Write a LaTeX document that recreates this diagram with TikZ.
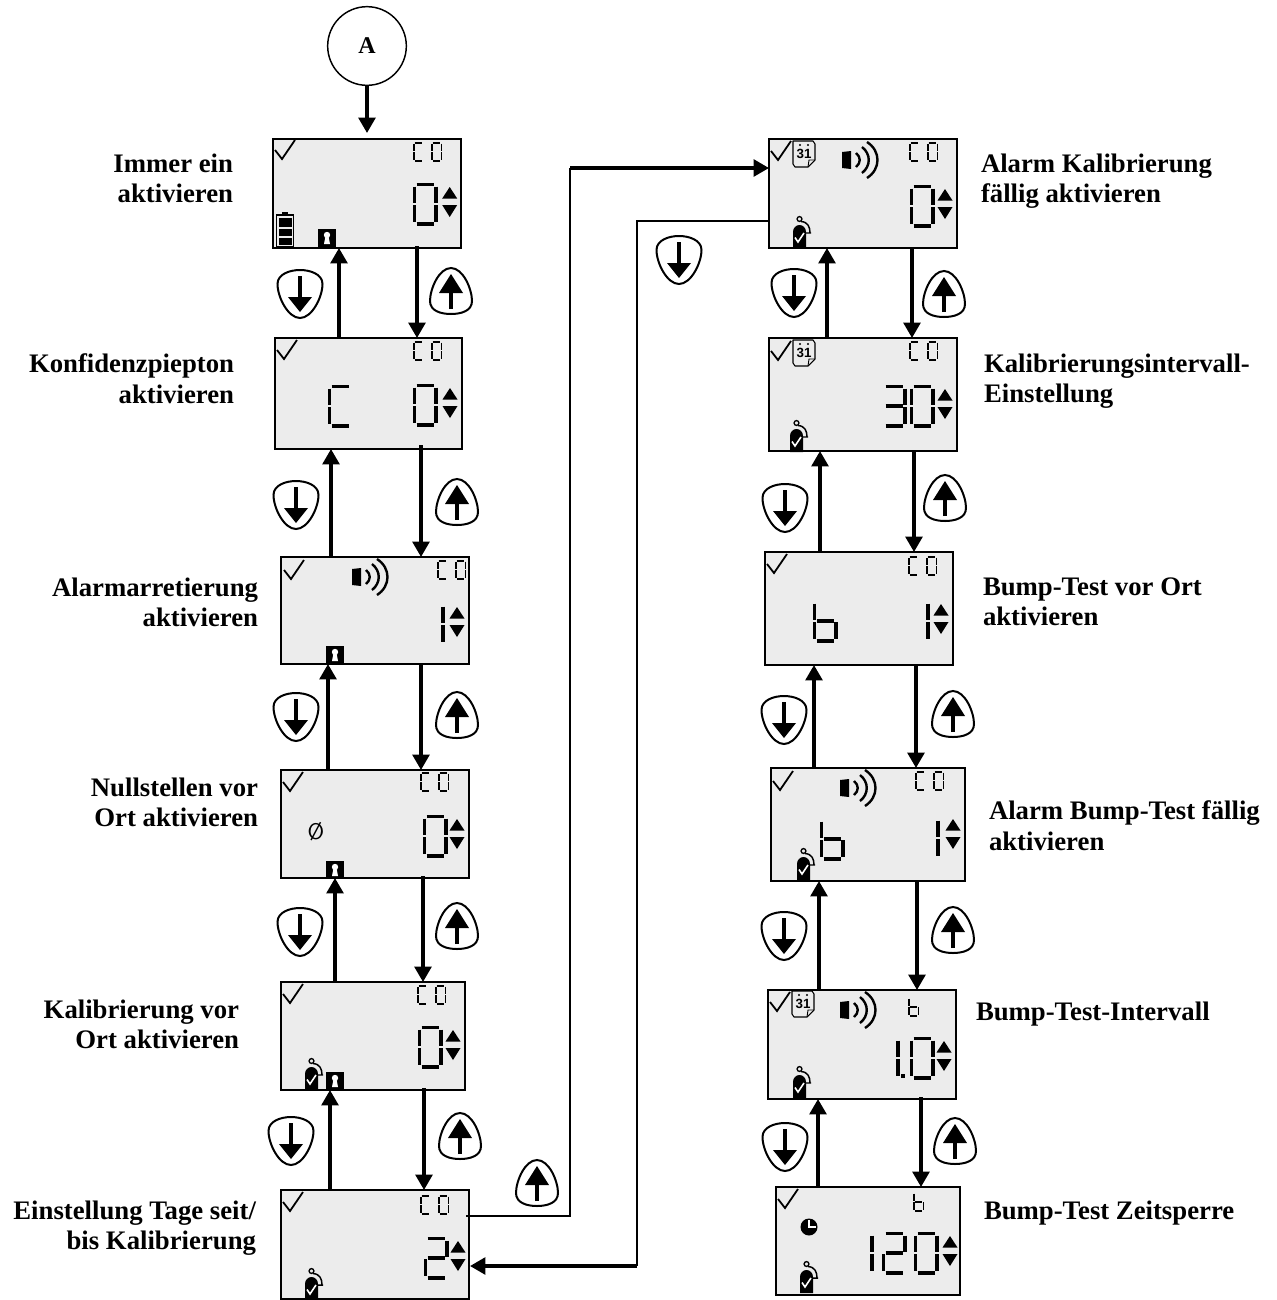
\documentclass[tikz,border=0pt]{standalone}
\usepackage{fontspec}
\setmainfont{Liberation Serif}
\newfontfamily\calfont{Liberation Sans}
\usetikzlibrary{arrows.meta,calc}
% ---- seven segment pieces (24 x 42 px cell)
\newcommand\segA{\draw[seg] (3.5,1.3)--(20.5,1.3);}
\newcommand\segB{\draw[seg] (22.7,3.5)--(22.7,19.8);}
\newcommand\segC{\draw[seg] (22.7,22.2)--(22.7,38.5);}
\newcommand\segD{\draw[seg] (3.5,40.7)--(20.5,40.7);}
\newcommand\segE{\draw[seg] (1.3,22.2)--(1.3,38.5);}
\newcommand\segF{\draw[seg] (1.3,3.5)--(1.3,19.8);}
\newcommand\segG{\draw[seg] (3.5,21)--(20.5,21);}
\newcommand\digO{\segA\segB\segC\segD\segE\segF}
\newcommand\digI{\segB\segC}
\newcommand\digII{\segA\segB\segG\segE\segD}
\newcommand\digIII{\segA\segB\segG\segC\segD}
\newcommand\digC{\segA\segF\segE\segD}
\newcommand\digb{\segF\segE\segG\segC\segD}
\newcommand\bigdg[3]{\begin{scope}[shift={(#1,#2)}]#3\end{scope}}
\newcommand\smalldg[3]{\begin{scope}[shift={(#1,#2)},xscale=.46,yscale=.47,seg/.style={line width=1.4pt,line cap=butt}]#3\end{scope}}
\newcommand\coLbl[2]{\smalldg{#1}{#2}{\digC}\smalldg{#1+18}{#2}{\digO}}
\newcommand\udarrows[2]{%
  \fill ({#1-7.5},{#2+15.5})--({#1+7.5},{#2+15.5})--(#1,{#2+4})--cycle;
  \fill ({#1-7.5},{#2+22})--({#1+7.5},{#2+22})--(#1,{#2+34})--cycle;}
\newcommand\chk[2]{\draw[line width=1.35pt,shift={(#1,#2)}] (0,10)--(7,19)--(20,0);}
\newcommand\lockic[2]{\begin{scope}[shift={(#1,#2)}]
  \fill (0,0) rectangle (18,18);
  \fill[white] (9,6) circle[radius=3.2];
  \fill[white] (7.5,7)--(10.5,7)--(12,15)--(6,15)--cycle;
\end{scope}}
\newcommand\batteryic[2]{\begin{scope}[shift={(#1,#2)}]
  \fill (6,0) rectangle (12,3);
  \draw[line width=1.2pt] (0.5,3) rectangle (17.5,35);
  \fill (2.5,5.5) rectangle (15.5,15);
  \fill (2.5,17) rectangle (15.5,24);
  \fill (2.5,26) rectangle (15.5,33);
\end{scope}}
\newcommand\speakeric[2]{\begin{scope}[shift={(#1,#2)}]
  \fill (0,-8)--(9,-9)--(9,9)--(0,8)--cycle;
  \draw[line width=1.8pt] (14,-7) .. controls (19,-3) and (19,3) .. (14,7);
  \draw[line width=1.8pt] (20,-13) .. controls (29,-6) and (29,6) .. (20,13);
  \draw[line width=1.8pt] (25,-18) .. controls (39,-9) and (39,9) .. (25,18);
\end{scope}}
\newcommand\calendic[2]{\begin{scope}[shift={(#1,#2)}]
  \draw[line width=.8pt,line join=round] (0,0)--(20,0)--(22,3)--(22,19)--(15,26)--(2,26)--(0,23)--cycle;
  \draw[line width=.7pt] (15,26)--(16,19)--(22,19);
  \fill (7,4) circle[radius=1.2] (15,4) circle[radius=1.2];
  \node[inner sep=0pt,font=\fontsize{10}{10}\calfont\bfseries] (calt#1) at (11,13) {31};
\end{scope}}
\newcommand\cylic[2]{\begin{scope}[shift={(#1,#2)}]
  \draw[line width=1pt] (6.5,3) circle[radius=2.4];
  \draw[line width=1.1pt] (8,5.5) .. controls (15,6) and (17,11) .. (17,17) (18,17)--(12,17);
  \fill (0,32)--(0,16) .. controls (0,12) and (3,9) .. (6.5,9) .. controls (10,9) and (13,12) .. (13,16) -- (13,32)--cycle;
  \draw[white,line width=1.2pt] (2,21.5)--(5,26)--(11,17);
\end{scope}}
\definecolor{lcdgray}{HTML}{ECECEC}
\tikzset{
  x=0.75pt,y=-0.75pt,
  seg/.style={line width=2.7pt,line cap=butt},
  lcd/.style={draw=black,line width=1.1pt,fill=lcdgray,rectangle,anchor=north west,inner sep=0pt,outer sep=0pt},
  arr/.style={line width=2.6pt,-{Triangle[length=11.5pt,width=12.5pt]}},
  thinline/.style={line width=1.3pt},
  lab/.style={font=\fontsize{20.05}{22.7}\selectfont\bfseries,inner sep=0pt,outer sep=0pt},
  labl/.style={lab,anchor=north west,align=left},
  labr/.style={lab,anchor=north east,align=right},
  upbtn/.pic={
    \draw[line width=1.5pt] (0,-23) .. controls (12,-23) and (21,-2) .. (21,10)
       .. controls (21,20) and (10,23) .. (0,23) .. controls (-10,23) and (-21,20) .. (-21,10)
       .. controls (-21,-2) and (-12,-23) .. (0,-23) -- cycle;
    \draw[line width=2.4pt] (0,18)--(0,-2);
    \fill (-12,2)--(12,2)--(0,-17)--cycle;
  },
  downbtn/.pic={
    \draw[line width=1.5pt] (0,24) .. controls (12,24) and (22.5,3) .. (22.5,-10)
       .. controls (22.5,-20) and (10,-24) .. (0,-24) .. controls (-10,-24) and (-22.5,-20) .. (-22.5,-10)
       .. controls (-22.5,3) and (-12,24) .. (0,24) -- cycle;
    \draw[line width=2.4pt] (0,-18)--(0,5);
    \fill (-12,3)--(12,3)--(0,18)--cycle;
  },
}
\newcommand\lcdbox[5]{\node[lcd,minimum width={(#4-#2)*0.75pt},minimum height={(#5-#3)*0.75pt}] (#1) at (#2,#3) {};}
\begin{document}
\begin{tikzpicture}
\useasboundingbox (0,0) rectangle (1277,1300);
\clip (0,0) rectangle (1277,1300);
\fill[white] (0,0) rectangle (1277,1300);
% circle
\node[draw=black,line width=1.1pt,circle,minimum size=59pt,inner sep=0pt,font=\fontsize{18}{20}\selectfont\bfseries] (A) at (367,46) {A};
% displays
\lcdbox{l1}{273}{139}{461}{248}
\lcdbox{l2}{275}{338}{462}{449}
\lcdbox{l3}{281}{557}{469}{664}
\lcdbox{l4}{281}{770}{469}{878}
\lcdbox{l5}{281}{982}{465}{1090}
\lcdbox{l6}{281}{1190}{469}{1299}
\lcdbox{r1}{769}{139}{957}{248}
\lcdbox{r2}{769}{338}{957}{451}
\lcdbox{r3}{765}{552}{953}{665}
\lcdbox{r4}{771}{768}{965}{881}
\lcdbox{r5}{768}{990}{956}{1099}
\lcdbox{r6}{776}{1187}{960}{1295}
% L1
\chk{275}{140}\coLbl{413}{142}\bigdg{413}{183}{\digO}\udarrows{449.7}{183}\batteryic{276}{212}\lockic{318}{229}
% L2
\chk{277}{340}\coLbl{413}{341}\bigdg{413}{384}{\digO}\udarrows{450}{384}\bigdg{328}{385}{\digC}
% L3
\chk{284}{560}\speakeric{352}{577}\coLbl{437}{560}\bigdg{420}{603}{\digI}\udarrows{457}{603}\lockic{326}{646}
% L4
\chk{283}{772}\coLbl{420}{772}\bigdg{423}{815}{\digO}\udarrows{457}{815}\lockic{326}{861}
\node[inner sep=0pt,font=\fontsize{17}{17}\selectfont\sffamily] (zeroslash) at (316,832) {Ø};
% L5
\chk{283}{984}\coLbl{417}{985}\bigdg{418}{1026}{\digO}\udarrows{453}{1026}\cylic{305}{1058}\lockic{326}{1072}
% L6
\chk{283}{1192}\coLbl{420}{1195}\bigdg{424}{1237}{\digII}\udarrows{458}{1237}\cylic{305}{1268}
% R1
\chk{771}{141}\calendic{793}{141}\speakeric{842}{160}\coLbl{909}{142}\bigdg{910}{185}{\digO}\udarrows{945}{185}\cylic{793}{216}
% R2
\chk{771}{341}\calendic{793}{340}\coLbl{909}{341}\bigdg{882}{385}{\digIII}\bigdg{910}{385}{\digO}\udarrows{945}{385}\cylic{790}{420}
% R3
\chk{767}{554}\coLbl{908}{556}\bigdg{813}{600}{\digb}\bigdg{905}{600}{\digI}\udarrows{941}{600}
% R4
\chk{773}{771}\speakeric{840}{788}\coLbl{915}{771}\bigdg{820}{818}{\digb}\bigdg{915}{817}{\digI}\udarrows{953}{815}\cylic{797}{848}
% R5
\chk{770}{992}\calendic{792}{991}\speakeric{840}{1010}\smalldg{908}{997}{\digb}\bigdg{875}{1037}{\digI}\fill (901,1074) rectangle (905,1078);\bigdg{910}{1037}{\digO}\udarrows{944}{1037}\cylic{793}{1066}
% R6
\chk{778}{1189}\fill (809,1227) circle[radius=8.5];\draw[white,line width=.8pt] (809,1220)--(809,1227)--(816,1227);\smalldg{913}{1192}{\digb}\bigdg{849}{1232}{\digI}\bigdg{882}{1232}{\digII}\bigdg{914}{1232}{\digO}\udarrows{950}{1232}\cylic{800}{1261}
% connectors
\coordinate (bendA) at (570,168);
\coordinate (bendB) at (637,1266);
\draw[arr] (A.south) -- ($(l1.north west)+(94,-6)$);
\draw[arr] ($(l2.north west)+(64,0)$) -- ($(l1.south west)+(66,0)$);
\draw[arr] ($(l1.south west)+(144,-2)$) -- ($(l2.north west)+(142,0)$);
\draw[arr] ($(l3.north west)+(50,0)$) -- ($(l2.south west)+(56,0)$);
\draw[arr] ($(l2.south west)+(146,-4)$) -- ($(l3.north west)+(140,0)$);
\draw[arr] ($(l4.north west)+(47,0)$) -- ($(l3.south west)+(47,0)$);
\draw[arr] ($(l3.south west)+(140,0)$) -- ($(l4.north west)+(140,0)$);
\draw[arr] ($(l5.north west)+(54,0)$) -- ($(l4.south west)+(54,0)$);
\draw[arr] ($(l4.south west)+(142,-2)$) -- ($(l5.north west)+(142,0)$);
\draw[arr] ($(l6.north west)+(49,0)$) -- ($(l5.south west)+(49,0)$);
\draw[arr] ($(l5.south west)+(143,-2)$) -- ($(l6.north west)+(143,0)$);
\draw[thinline] ($(l6.north east)+(-3,26)$) -| (bendA);
\draw[arr] (bendA) -- ($(r1.north west)+(0,29)$);
\draw[thinline] ($(r1.north west)+(0,82)$) -| (bendB);
\draw[arr] (bendB) -- ($(l6.north east)+(1,76)$);
\draw[arr] ($(r2.north west)+(58,0)$) -- ($(r1.south west)+(58,0)$);
\draw[arr] ($(r1.south west)+(143,-1)$) -- ($(r2.north west)+(143,0)$);
\draw[arr] ($(r3.north west)+(55,0)$) -- ($(r2.south west)+(51,0)$);
\draw[arr] ($(r2.south west)+(145,0)$) -- ($(r3.north west)+(149,0)$);
\draw[arr] ($(r4.north west)+(43,0)$) -- ($(r3.south west)+(49,0)$);
\draw[arr] ($(r3.south west)+(151,0)$) -- ($(r4.north west)+(145,0)$);
\draw[arr] ($(r5.north west)+(51,0)$) -- ($(r4.south west)+(48,0)$);
\draw[arr] ($(r4.south west)+(146,0)$) -- ($(r5.north west)+(149,0)$);
\draw[arr] ($(r6.north west)+(42,0)$) -- ($(r5.south west)+(50,0)$);
\draw[arr] ($(r5.south west)+(153,-2)$) -- ($(r6.north west)+(145,0)$);
% buttons
\pic at (300,294) {downbtn};
\pic at (296,505) {downbtn};
\pic at (296,717) {downbtn};
\pic at (300,932) {downbtn};
\pic at (291,1141) {downbtn};
\pic at (679,260) {downbtn};
\pic at (794,293) {downbtn};
\pic at (785,508) {downbtn};
\pic at (784,720) {downbtn};
\pic at (784,936) {downbtn};
\pic at (785,1147) {downbtn};
\pic at (451,291) {upbtn};
\pic at (457,502) {upbtn};
\pic at (457,715) {upbtn};
\pic at (457,926) {upbtn};
\pic at (460,1136) {upbtn};
\pic at (537,1183) {upbtn};
\pic at (944,294) {upbtn};
\pic at (945,498) {upbtn};
\pic at (953,714) {upbtn};
\pic at (953,930) {upbtn};
\pic at (955,1141) {upbtn};
% labels
\node[labr] (t1) at (233,154) {Immer ein\\aktivieren};
\node[labr] (t2) at (234,354) {Konfidenzpiepton\\aktivieren};
\node[labr] (t3) at (258,578) {Alarmarretierung\\aktivieren};
\node[labr] (t4) at (258,778) {Nullstellen vor\\Ort aktivieren};
\node[labr] (t5) at (239,1000) {Kalibrierung vor\\Ort aktivieren};
\node[labr] (t6) at (256,1201) {Einstellung Tage seit/\\bis Kalibrierung};
\node[labl] (t7) at (981,154) {Alarm Kalibrierung\\fällig aktivieren};
\node[labl] (t8) at (984,354) {Kalibrierungsintervall-\\Einstellung};
\node[labl] (t9) at (983,578) {Bump-Test vor Ort\\aktivieren};
\node[labl] (t10) at (989,801) {Alarm Bump-Test fällig\\aktivieren};
\node[labl] (t11) at (976,1002) {Bump-Test-Intervall};
\node[labl] (t12) at (984,1201) {Bump-Test Zeitsperre};
\end{tikzpicture}
\end{document}
